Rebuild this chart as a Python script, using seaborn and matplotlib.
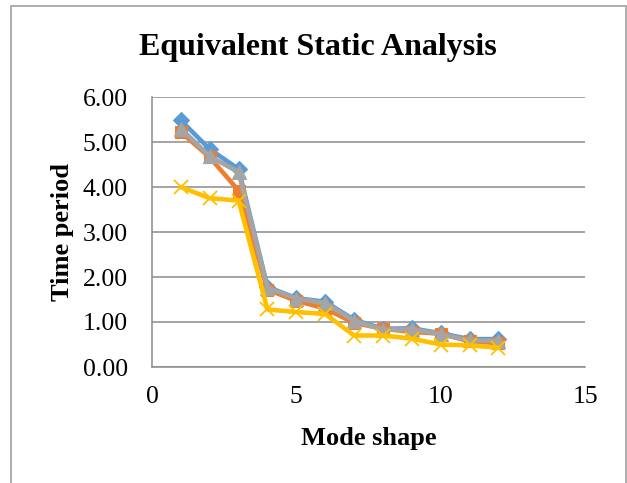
import matplotlib
matplotlib.use("Agg")
import matplotlib.pyplot as plt
import seaborn as sns
import pandas as pd
from matplotlib.patches import Rectangle
from matplotlib.ticker import FormatStrFormatter

# Time periods per mode shape for four models
modes = [1, 2, 3, 4, 5, 6, 7, 8, 9, 10, 11, 12]
series_a = [5.48, 4.84, 4.40, 1.78, 1.53, 1.45, 1.05, 0.85, 0.86, 0.75, 0.62, 0.62]
series_b = [5.22, 4.66, 3.92, 1.72, 1.47, 1.30, 0.98, 0.85, 0.78, 0.74, 0.57, 0.53]
series_c = [5.30, 4.68, 4.33, 1.76, 1.52, 1.42, 1.03, 0.83, 0.84, 0.73, 0.59, 0.58]
series_d = [4.00, 3.75, 3.70, 1.28, 1.22, 1.18, 0.70, 0.70, 0.63, 0.50, 0.48, 0.43]

x_ticks = [0, 5, 10, 15]
y_ticks = [0, 1, 2, 3, 4, 5, 6]

sns.set_theme(style="white")
plt.rcParams["font.family"] = ["Liberation Serif", "DejaVu Serif"]
plt.rcParams["text.color"] = "black"
plt.rcParams["axes.labelcolor"] = "black"

fig = plt.figure(figsize=(6.27, 4.83), dpi=100)
ax = fig.add_axes([152 / 627, 1 - 367 / 483, (585 - 152) / 627, (367 - 97) / 483])

styles = [
    (series_a, "#5B9BD5", "D", 8.5),
    (series_b, "#ED7D31", "s", 8.5),
    (series_c, "#A5A5A5", "^", 9.5),
    (series_d, "#FFC000", "x", 9.5),
]
for vals, col, mk, ms in styles:
    df = pd.DataFrame({"mode": modes, "period": vals})
    sns.lineplot(data=df, x="mode", y="period", ax=ax, color=col, linewidth=3.3,
                 marker=mk, markersize=ms, markeredgecolor=col, markerfacecolor=col,
                 markeredgewidth=1.3 if mk == "x" else 0.8, legend=False)

ax.set_xlim(0, 15)
ax.set_ylim(0, 6)
ax.set_xticks(x_ticks)
ax.set_yticks(y_ticks)
ax.yaxis.set_major_formatter(FormatStrFormatter("%.2f"))
ax.tick_params(axis="y", labelsize=18.5, length=0, pad=17.5, colors="black")
ax.tick_params(axis="x", labelsize=18.5, length=0, pad=14, colors="black")

ax.yaxis.grid(True, color="#8C8C8C", linewidth=1.1)
ax.set_axisbelow(True)
for side in ("top", "right"):
    ax.spines[side].set_visible(False)
for side in ("left", "bottom"):
    ax.spines[side].set_color("#8C8C8C")
    ax.spines[side].set_linewidth(1.1)

ax.set_xlabel("Mode shape", fontsize=19, fontweight="bold", labelpad=13)
ax.set_ylabel("Time period", fontsize=19, fontweight="bold", labelpad=6)

fig.text(318 / 627, 1 - 48 / 483, "Equivalent Static Analysis", ha="center", va="center",
         fontsize=23, fontweight="bold")

# Chart area border
fig.patches.append(Rectangle((11 / 627, -0.01), (626 - 11) / 627, 1 - 6 / 483 + 0.01,
                             transform=fig.transFigure, fill=False,
                             edgecolor="#A0A0A0", linewidth=1.2))

fig.savefig("out.png", dpi=100)
